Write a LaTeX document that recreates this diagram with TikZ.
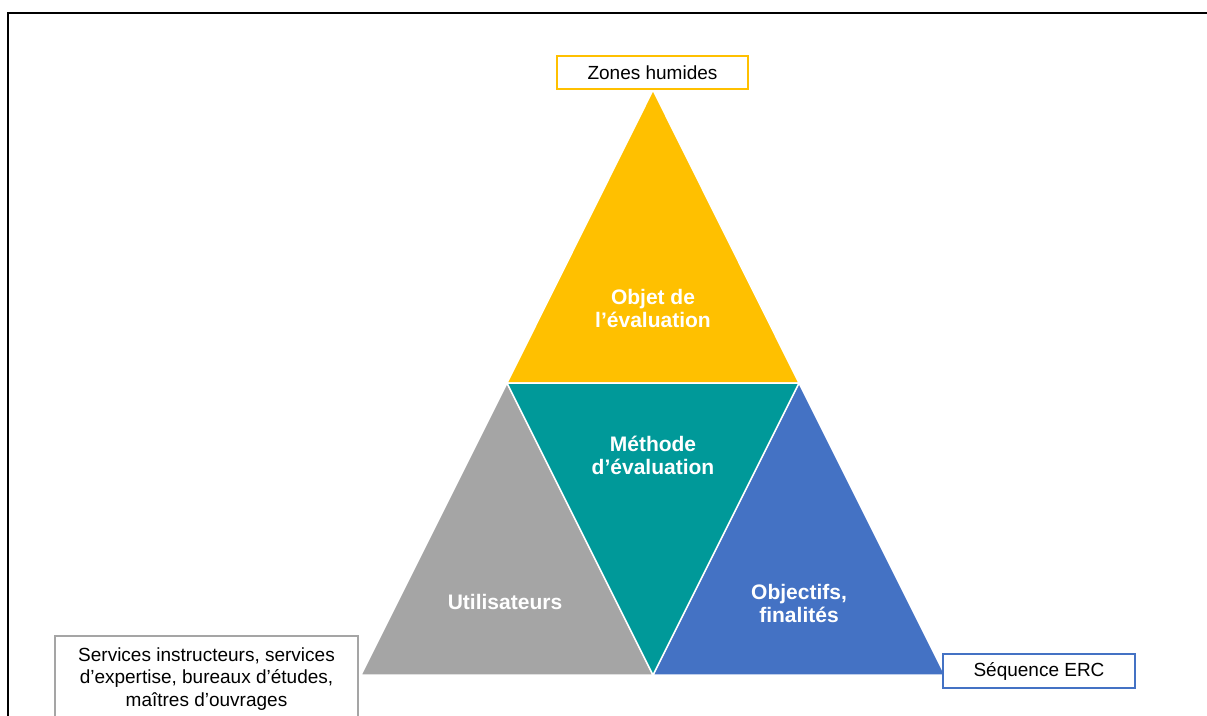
\documentclass[tikz,border=0pt]{standalone}
\usepackage{fontspec}
\setmainfont{Liberation Sans}
\definecolor{cjaune}{HTML}{FFC000}
\definecolor{cteal}{HTML}{009999}
\definecolor{cgris}{HTML}{A5A5A5}
\definecolor{cbleu}{HTML}{4472C4}

\begin{document}
\begin{tikzpicture}[x=1pt, y=-1pt,
    tri/.style={draw=white, line width=1.5pt, line join=miter},
    etiq/.style={text=white, font=\fontsize{21}{23}\selectfont\bfseries, align=center},
    cadre/.style={draw, line width=2pt, fill=white, inner sep=0pt,
                  font=\fontsize{19}{22.5}\selectfont, align=center}]
    \useasboundingbox (0, 0) rectangle (1207, 715);
    % frame
    \draw [line width=2pt]  (8, 13) rectangle (1230, 740);
    % corners
    \coordinate (sommet) at (653, 90);
    \coordinate (hg)     at (507, 383);
    \coordinate (hd)     at (799, 383);
    \coordinate (bg)     at (361, 675);
    \coordinate (bm)     at (653, 675);
    \coordinate (bd)     at (945, 675);
    % triangles
    \draw [tri, fill=cjaune] (sommet) -- (hd) -- (hg) -- cycle;
    \draw [tri, fill=cgris]  (hg) -- (bm) -- (bg) -- cycle;
    \draw [tri, fill=cbleu]  (hd) -- (bd) -- (bm) -- cycle;
    \draw [tri, fill=cteal]  (hg) -- (hd) -- (bm) -- cycle;
    % labels
    \node [etiq] (objet)   at (653, 308) {Objet de\\l’évaluation};
    \node [etiq] (methode) at (653, 455) {Méthode\\d’évaluation};
    \node [etiq] (util)    at (505, 602) {Utilisateurs};
    \node [etiq] (fin)     at (799, 603) {Objectifs,\\finalités};
    % boxes
    \node [cadre, draw=cjaune, minimum width=191pt, minimum height=33pt]
          (zones) at (652.5, 72.5) {Zones humides};
    \node [cadre, draw=cbleu, minimum width=192pt, minimum height=34pt]
          (erc) at (1039, 671) {Séquence ERC};
    \node [cadre, draw=cgris, minimum width=303pt, minimum height=86pt]
          (services) at (206.5, 679) {Services instructeurs, services\\d’expertise, bureaux d’études,\\maîtres d’ouvrages};
\end{tikzpicture}
\end{document}
